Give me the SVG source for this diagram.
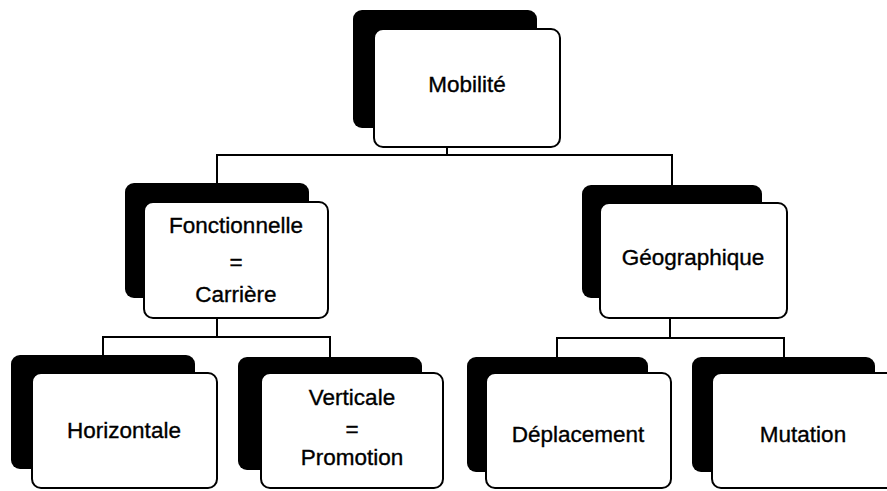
<svg xmlns="http://www.w3.org/2000/svg" width="887" height="491" viewBox="0 0 887 491">
<style>
.back{fill:#000;stroke:none}
.front{fill:#fff;stroke:#000;stroke-width:2}
.lbl{font-family:"Liberation Sans",Arial,sans-serif;font-size:22.5px;fill:#000;stroke:#000;stroke-width:0.35;text-anchor:middle}
.conn{fill:none;stroke:#000;stroke-width:2}
</style>
<rect x="0" y="0" width="887" height="491" fill="#fff"/>
<g id="connectors">
<path class="conn" d="M447,148 V155 M217,183 V155 H672 V186"/>
<path class="conn" d="M217,318 V337 M103,355 V337 H330 V357"/>
<path class="conn" d="M670,318 V338 M557,357 V338 H784 V357"/>
</g>
<g id="mobilite">
<rect class="back" x="353" y="10" width="184" height="118" rx="9"/>
<rect class="front" x="374" y="29" width="186" height="118" rx="9"/>
<text class="lbl" x="467" y="92">Mobilité</text>
</g>
<g id="fonctionnelle">
<rect class="back" x="125" y="183" width="184" height="115" rx="9"/>
<rect class="front" x="144" y="202" width="184" height="116" rx="9"/>
<text class="lbl" x="236" y="233">Fonctionnelle</text>
<text class="lbl" x="236" y="270">=</text>
<text class="lbl" x="236" y="302">Carrière</text>
</g>
<g id="geographique">
<rect class="back" x="582" y="185" width="180" height="113" rx="9"/>
<rect class="front" x="600" y="203" width="187" height="115" rx="9"/>
<text class="lbl" x="693" y="265">Géographique</text>
</g>
<g id="horizontale">
<rect class="back" x="11" y="355" width="184" height="114" rx="9"/>
<rect class="front" x="32" y="373" width="185" height="115" rx="9"/>
<text class="lbl" x="124" y="438">Horizontale</text>
</g>
<g id="verticale">
<rect class="back" x="238" y="357" width="184" height="113" rx="9"/>
<rect class="front" x="261" y="373" width="182" height="115" rx="9"/>
<text class="lbl" x="352" y="405">Verticale</text>
<text class="lbl" x="352" y="437">=</text>
<text class="lbl" x="352" y="465">Promotion</text>
</g>
<g id="deplacement">
<rect class="back" x="467" y="357" width="181" height="115" rx="9"/>
<rect class="front" x="486" y="373" width="185" height="115" rx="9"/>
<text class="lbl" x="578" y="442">Déplacement</text>
</g>
<g id="mutation">
<rect class="back" x="692" y="357" width="183" height="115" rx="9"/>
<rect class="front" x="712" y="373" width="185" height="115" rx="9"/>
<text class="lbl" x="803" y="442">Mutation</text>
</g>
</svg>
